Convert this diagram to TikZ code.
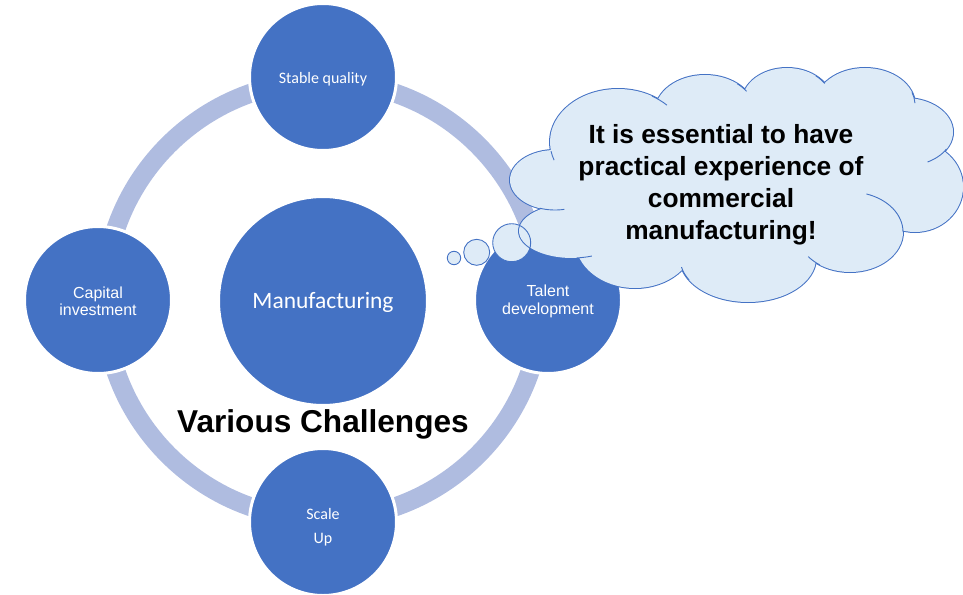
\documentclass[tikz,border=0pt]{standalone}
\usepackage{fontspec}
\setmainfont{Liberation Sans}
\newfontfamily\calibrifont{Carlito}
\definecolor{nodeblue}{HTML}{4472C4}
\definecolor{ringblue}{HTML}{AFBCE0}
\definecolor{cloudfill}{HTML}{DEEBF7}
\begin{document}
\begin{tikzpicture}[x=1pt,y=-1pt,
  circ/.style={circle, fill=nodeblue, draw=white, line width=3pt,
    inner sep=0pt, minimum size=147pt},
  circtxt/.style={text=white, align=center, inner sep=0pt},
  ringstyle/.style={circle, draw=ringblue, line width=19pt, minimum size=438pt, inner sep=0pt},
  bubblefill/.style={circle, fill=cloudfill, inner sep=0pt},
  bubbleline/.style={circle, draw=nodeblue, line width=0.9pt, inner sep=0pt},
  lobeline/.style={draw=nodeblue, line width=2pt},
  lobefill/.style={fill=cloudfill},
  tail/.style={draw=nodeblue, line width=0.9pt},
  smalltxt/.style={font=\fontsize{16}{17.5}\selectfont},
  calitxt/.style={font=\calibrifont\fontsize{16}{24}\selectfont}
]
\useasboundingbox (0,0) rectangle (963,594);

% ring
\node[ringstyle] (ring) at (323,300) {};

% outer circles
\node[circ] (quality) at (323,77) {};
\node[circ] (capital) at (98,300) {};
\node[circ] (talent) at (548,300) {};
\node[circ] (scale) at (323,522) {};
\node[circ, minimum size=209pt] (mfg) at (323,301) {};

\node[circtxt, calitxt, yshift=-2pt] (qualitytxt) at (quality) {Stable quality};
\node[circtxt, smalltxt, yshift=-1.5pt] (capitaltxt) at (capital) {Capital\\investment};
\node[circtxt, smalltxt, yshift=-1.5pt] (talenttxt) at (talent) {Talent\\development};
\node[circtxt, calitxt, yshift=-5pt] (scaletxt) at (scale) {Scale\\Up};
\node[circtxt, font=\calibrifont\fontsize{23.5}{26}\selectfont, yshift=-1.5pt] (mfgtxt) at (mfg) {Manufacturing};

% thought bubbles (fill)
\node[bubblefill, minimum size=13.4pt] (b1f) at (454,258) {};
\node[bubblefill, minimum size=26pt] (b2f) at (476.7,252.3) {};
\node[bubblefill, minimum size=38pt] (b3f) at (511.7,242.7) {};

% cloud: strokes first, then fills so only the union outline remains
\def\lobes{555/180/45/30, 572/231/53/27, 635/240/60/48, 748/258/68/44,
  850/232/53/40, 915/187/48/45, 905/132/48/34, 865/105/50/37,
  787/102/45/34, 705/112/50/37, 618/142/68/53}
\foreach \cx/\cy/\rx/\ry in \lobes {
  \path[lobeline] (\cx,\cy) ellipse [x radius=\rx pt, y radius=\ry pt];
}
\foreach \cx/\cy/\rx/\ry in \lobes {
  \path[lobefill] (\cx,\cy) ellipse [x radius=\rx pt, y radius=\ry pt];
}
\path[lobefill] (730,185) ellipse [x radius=170pt, y radius=75pt];
\path[lobefill] (760,160) ellipse [x radius=150pt, y radius=70pt];

% short inner arcs of the cloud lobes (angles measured downward on the page)
\foreach \cx/\cy/\rx/\ry/\a/\b in {
  618/142/68/53/-60/-44, 705/112/50/37/-50/-34, 787/102/45/34/-50/-33,
  865/105/50/37/-20/-3, 905/132/48/34/30/62, 850/232/53/40/-72/0,
  850/232/53/40/125/142, 748/258/68/44/150/168, 572/231/53/27/85/68,
  555/180/45/30/110/78, 618/142/68/53/160/170} {
  \draw[tail] (\cx,\cy) ++(-\a:\rx pt and \ry pt)
    arc[start angle=-\a, end angle=-\b, x radius=\rx pt, y radius=\ry pt];
}

% bubble outlines
\node[bubbleline, minimum size=13.4pt] (b1) at (454,258) {};
\node[bubbleline, minimum size=26pt] (b2) at (476.7,252.3) {};
\node[bubbleline, minimum size=38pt] (b3) at (511.7,242.7) {};

% cloud text
\node[align=center, font=\bfseries\fontsize{26.3}{32}\selectfont] (cloudtext) at (721,185)
  {It is essential to have\\practical experience of\\commercial\\manufacturing!};

% caption
\node[font=\bfseries\fontsize{31.6}{36}\selectfont] (various) at (323,424) {Various Challenges};
\end{tikzpicture}
\end{document}
